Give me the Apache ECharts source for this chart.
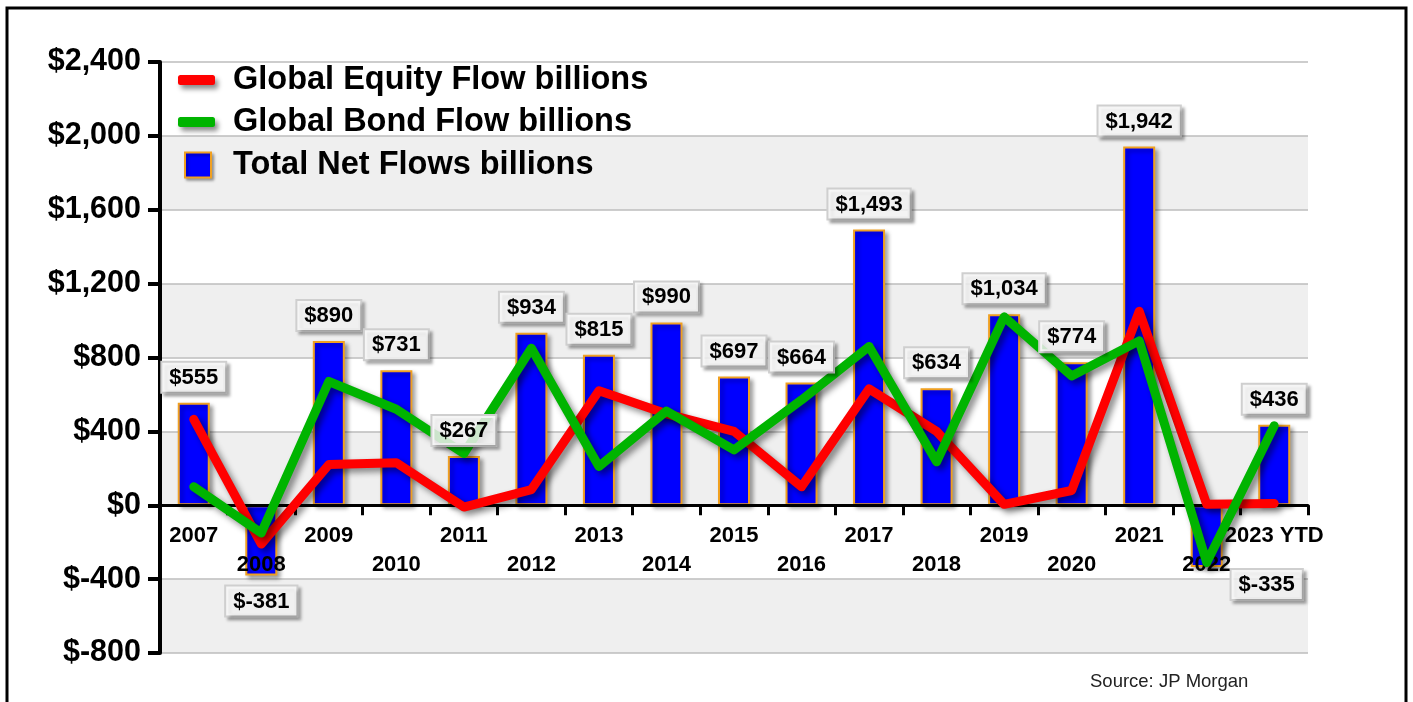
<!DOCTYPE html>
<html>
<head>
<meta charset="utf-8">
<title>Global Fund Flows</title>
<script src="https://cdn.jsdelivr.net/npm/echarts@6/dist/echarts.min.js"></script>
<style>
  html, body { margin: 0; padding: 0; background: #ffffff; }
  #chart { width: 1413px; height: 702px; }
</style>
</head>
<body>
<div id="chart"></div>
<script>
// Annual flows, USD billions
const categories = ['2007', '2008', '2009', '2010', '2011', '2012', '2013', '2014', '2015',
  '2016', '2017', '2018', '2019', '2020', '2021', '2022', '2023 YTD'];
const equityFlow = [465, -210, 220, 230, -10, 85, 620, 495, 400, 100, 630, 400, 5, 80, 1050, 5, 10];
const bondFlow = [100, -150, 670, 520, 280, 850, 210, 510, 300, 570, 860, 235, 1020, 700, 890, -310, 430];
const totalFlow = [555, -381, 890, 731, 267, 934, 815, 990, 697, 664, 1493, 634, 1034, 774, 1942, -335, 436];

const FONT = '"Liberation Sans", Arial, Helvetica, sans-serif';

// value range of the vertical axis
const Y_MIN = -800;
const Y_MAX = 2400;
const Y_STEP = 400;

// plot box
const GRID = { left: 160, right: 105, top: 62, bottom: 49 };
const CHART_H = 702;

function withCommas(n) {
  return String(n).replace(/\B(?=(\d{3})+(?!\d))/g, ',');
}
function money(v) {
  return v < 0 ? '$-' + withCommas(Math.abs(v)) : '$' + withCommas(v);
}

// the category axis runs along the zero line: lift it from the plot bottom
const plotH = CHART_H - GRID.top - GRID.bottom;
const zeroLift = plotH * (0 - Y_MIN) / (Y_MAX - Y_MIN);

// value labels sit above positive bars and below negative ones
const labelData = totalFlow.map(function (v, i) {
  const item = { value: v, label: { position: v < 0 ? 'bottom' : 'top' } };
  if (i === 15) item.label.offset = [60, -8];
  return item;
});

const chart = echarts.init(document.getElementById('chart'), null, { renderer: 'canvas' });

chart.setOption({
  animation: false,
  backgroundColor: '#ffffff',
  textStyle: { fontFamily: FONT },
  grid: {
    left: GRID.left, right: GRID.right, top: GRID.top, bottom: GRID.bottom,
    containLabel: false,
    outerBoundsMode: 'none'
  },
  legend: [
    {
      data: ['Global Equity Flow billions', 'Global Bond Flow billions'],
      orient: 'vertical',
      left: 173,
      top: 54,
      itemGap: 0,
      itemWidth: 37,
      itemHeight: 10,
      icon: 'roundRect',
      itemStyle: { shadowColor: 'rgba(0,0,0,0.45)', shadowBlur: 5, shadowOffsetX: 3, shadowOffsetY: 4 },
      textStyle: { fontSize: 32.5, fontWeight: 'bold', color: '#000', fontFamily: FONT, lineHeight: 42, padding: [0, 0, 0, 13] },
      selectedMode: false
    },
    {
      data: ['Total Net Flows billions'],
      orient: 'vertical',
      left: 179,
      top: 139,
      itemWidth: 26,
      itemHeight: 25,
      icon: 'rect',
      itemStyle: { borderColor: '#f0a020', borderWidth: 2, shadowColor: 'rgba(0,0,0,0.35)', shadowBlur: 3, shadowOffsetX: 2, shadowOffsetY: 2 },
      textStyle: { fontSize: 32.5, fontWeight: 'bold', color: '#000', fontFamily: FONT, lineHeight: 42, padding: [0, 0, 0, 17] },
      selectedMode: false
    }
  ],
  xAxis: {
    type: 'category',
    data: categories,
    boundaryGap: true,
    position: 'bottom',
    offset: -zeroLift,
    z: 2,
    axisLine: { onZero: false, lineStyle: { color: '#000', width: 3 } },
    axisTick: { show: true, length: 10, lineStyle: { color: '#000', width: 3 } },
    axisLabel: {
      interval: 0,
      margin: 16,
      color: '#000',
      fontSize: 22,
      fontWeight: 'bold',
      fontFamily: FONT,
      lineHeight: 29,
      formatter: function (v, i) { return i % 2 === 1 ? '\n' + v : v; }
    },
    splitLine: { show: false }
  },
  yAxis: {
    type: 'value',
    min: Y_MIN,
    max: Y_MAX,
    interval: Y_STEP,
    axisLine: { show: true, lineStyle: { color: '#000', width: 4 } },
    axisTick: { show: true, length: 12, lineStyle: { color: '#000', width: 4 } },
    axisLabel: {
      margin: 19,
      color: '#000',
      fontSize: 30.5,
      fontWeight: 'bold',
      fontFamily: FONT,
      formatter: money
    },
    splitLine: { show: true, lineStyle: { color: '#bdbdbd', width: 1.5 } },
    splitArea: { show: true, areaStyle: { color: ['#efefef', '#ffffff'] } }
  },
  series: [
    {
      name: 'Total Net Flows billions',
      type: 'bar',
      data: totalFlow,
      barWidth: 32,
      barGap: '-100%',
      z: 1,
      itemStyle: {
        color: '#0000ff',
        borderColor: '#f0a020',
        borderWidth: 2,
        shadowColor: 'rgba(0,0,0,0.35)',
        shadowBlur: 4,
        shadowOffsetX: 3,
        shadowOffsetY: 3
      }
    },
    {
      name: 'Global Equity Flow billions',
      type: 'line',
      data: equityFlow,
      symbol: 'none',
      z: 3,
      color: '#ff0000',
      lineStyle: {
        color: '#ff0000', width: 9, cap: 'round', join: 'round',
        shadowColor: 'rgba(0,0,0,0.45)', shadowBlur: 6, shadowOffsetX: 4, shadowOffsetY: 4
      }
    },
    {
      name: 'Global Bond Flow billions',
      type: 'line',
      data: bondFlow,
      symbol: 'none',
      z: 3,
      color: '#00b400',
      lineStyle: {
        color: '#00b400', width: 9, cap: 'round', join: 'round',
        shadowColor: 'rgba(0,0,0,0.45)', shadowBlur: 6, shadowOffsetX: 4, shadowOffsetY: 4
      }
    },
    {
      // invisible bars carrying the value tags above the lines
      name: 'labels',
      type: 'bar',
      data: labelData,
      barWidth: 32,
      barGap: '-100%',
      z: 4,
      silent: true,
      itemStyle: { color: 'rgba(0,0,0,0)' },
      label: {
        show: true,
        distance: 11,
        formatter: function (p) { return money(p.value); },
        color: '#000',
        fontSize: 22,
        fontWeight: 'bold',
        fontFamily: FONT,
        backgroundColor: 'rgba(255,255,255,0.8)',
        borderColor: '#cfcfcf',
        borderWidth: 2,
        padding: [4, 7, 3, 7],
        shadowColor: 'rgba(0,0,0,0.3)',
        shadowBlur: 3,
        shadowOffsetX: 3,
        shadowOffsetY: 3
      }
    }
  ],
  graphic: [
    {
      type: 'rect',
      z: -1,
      silent: true,
      shape: { x: 7, y: 8, width: 1399, height: 720 },
      style: { fill: 'none', stroke: '#000', lineWidth: 3 }
    },
    {
      type: 'text',
      left: 1090,
      top: 672,
      silent: true,
      style: { text: 'Source: JP Morgan', fill: '#222', font: '18.5px ' + FONT }
    }
  ]
});
</script>
</body>
</html>
